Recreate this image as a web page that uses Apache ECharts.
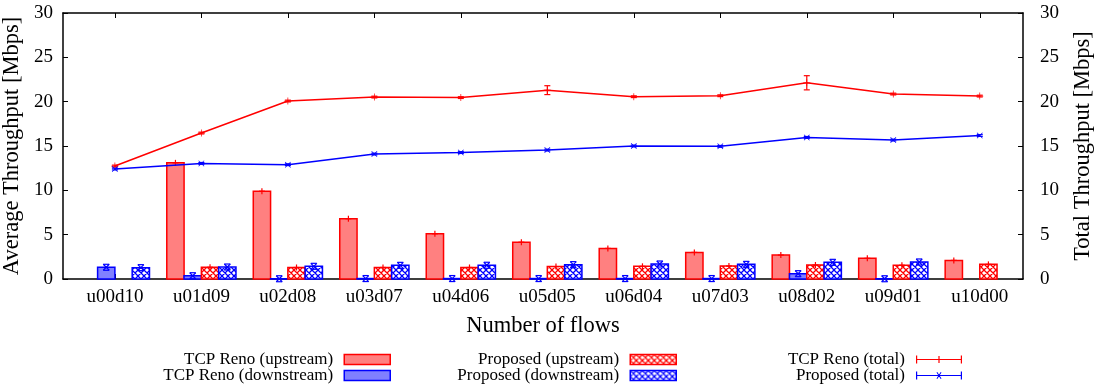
<!DOCTYPE html>
<html>
<head>
<meta charset="utf-8">
<script src="https://cdn.jsdelivr.net/npm/echarts@6/dist/echarts.min.js"></script>
<style>
  html, body { margin: 0; padding: 0; background: #fff; }
  #chart { width: 1105px; height: 392px; }
</style>
</head>
<body>
<div id="chart"></div>
<script>
// Flow mixes (upstream / downstream counts)
const categories = ['u00d10', 'u01d09', 'u02d08', 'u03d07', 'u04d06', 'u05d05',
                    'u06d04', 'u07d03', 'u08d02', 'u09d01', 'u10d00'];

// Average per-flow throughput [Mbps]
const renoUp    = [null, 13.1, 9.9, 6.8, 5.1, 4.15, 3.45, 3.0, 2.7, 2.33, 2.1];
const renoDown  = [1.32, 0.37, 0.03, 0.05, 0.05, 0.05, 0.05, 0.05, 0.6, 0.03, null];
const propUp    = [null, 1.32, 1.3, 1.3, 1.3, 1.4, 1.43, 1.47, 1.58, 1.55, 1.65];
const propDown  = [1.28, 1.35, 1.43, 1.54, 1.55, 1.62, 1.69, 1.65, 1.88, 1.92, null];

// Total throughput [Mbps] with error margins
const renoTotal    = [12.74, 16.46, 20.07, 20.52, 20.46, 21.3, 20.56, 20.67, 22.13, 20.86, 20.63];
const renoTotalErr = [0.1, 0.1, 0.1, 0.1, 0.1, 0.5, 0.1, 0.1, 0.8, 0.1, 0.1];
const propTotal    = [12.4, 13.04, 12.89, 14.09, 14.26, 14.54, 15.0, 14.96, 15.97, 15.67, 16.18];
const propTotalErr = [0.1, 0.1, 0.1, 0.1, 0.1, 0.1, 0.1, 0.1, 0.1, 0.1, 0.1];

const tickIdx = categories.map((_, i) => i);

const RED = '#ff0000', BLUE = '#0000ff';
const FONT = '"Liberation Serif", "DejaVu Serif", serif';
const BAR_W = 0.2;

function hatch(color) {
  const n = 6;
  const c = document.createElement('canvas');
  c.width = n; c.height = n;
  const g = c.getContext('2d');
  g.fillStyle = '#fff';
  g.fillRect(0, 0, n, n);
  g.strokeStyle = color;
  g.lineWidth = 1.3;
  g.beginPath();
  for (let k = -n; k <= n; k += n) {
    g.moveTo(k - 1, -1); g.lineTo(k + n + 1, n + 1);
    g.moveTo(k + n + 1, -1); g.lineTo(k - 1, n + 1);
  }
  g.stroke();
  return { image: c, repeat: 'repeat' };
}

function mark(kind, p, color) {
  const s = 3;
  const lines = kind === '+'
    ? [[p[0], p[1] - s, p[0], p[1] + s], [p[0] - s, p[1], p[0] + s, p[1]]]
    : [[p[0] - s, p[1] - s, p[0] + s, p[1] + s], [p[0] + s, p[1] - s, p[0] - s, p[1] + s],
       [p[0] - s, p[1] - s, p[0] + s, p[1] - s], [p[0] - s, p[1] + s, p[0] + s, p[1] + s]];
  return lines.map(l => ({
    type: 'line', shape: { x1: l[0], y1: l[1], x2: l[2], y2: l[3] },
    style: { stroke: color, lineWidth: 1.2 }
  }));
}

function barSeries(name, values, offset, fill, stroke, kind) {
  const data = [];
  values.forEach((v, i) => { if (v != null) data.push([i, v]); });
  return {
    name, type: 'custom', xAxisIndex: 0, yAxisIndex: 0, data, z: 2,
    renderItem(params, api) {
      const i = api.value(0), v = api.value(1);
      const a = api.coord([i + offset - BAR_W / 2, v]);
      const b = api.coord([i + offset + BAR_W / 2, 0]);
      const t = api.coord([i + offset, v]);
      return {
        type: 'group',
        children: [{
          type: 'rect',
          shape: { x: a[0], y: a[1], width: b[0] - a[0], height: b[1] - a[1] },
          style: { fill, stroke, lineWidth: 1.5 }
        }].concat(mark(kind, t, stroke))
      };
    }
  };
}

function errSeries(values, errs, color) {
  return {
    type: 'custom', xAxisIndex: 0, yAxisIndex: 1, z: 4,
    data: values.map((v, i) => [i, v, errs[i]]),
    renderItem(params, api) {
      const i = api.value(0), v = api.value(1), e = api.value(2);
      const lo = api.coord([i, v - e]), hi = api.coord([i, v + e]);
      const st = { stroke: color, lineWidth: 1.2 };
      return {
        type: 'group',
        children: [
          { type: 'line', shape: { x1: lo[0], y1: lo[1], x2: hi[0], y2: hi[1] }, style: st },
          { type: 'line', shape: { x1: lo[0] - 3, y1: lo[1], x2: lo[0] + 3, y2: lo[1] }, style: st },
          { type: 'line', shape: { x1: hi[0] - 3, y1: hi[1], x2: hi[0] + 3, y2: hi[1] }, style: st }
        ]
      };
    }
  };
}

const PLUS = 'path://M4.5,0H5.5V10H4.5Z M0,4.5H10V5.5H0Z';
const CROSS = 'path://M0,0.8L0.8,0L10,9.2L9.2,10Z M9.2,0L10,0.8L0.8,10L0,9.2Z';
const LEG_PLUS = 'path://M0,4.4H46V5.6H0Z M0,1H1.2V9H0Z M44.8,1H46V9H44.8Z M22.4,1.5H23.6V8.5H22.4Z';
const LEG_CROSS = 'path://M0,4.4H46V5.6H0Z M0,1H1.2V9H0Z M44.8,1H46V9H44.8Z M20.5,2L21.3,1.5L25.5,8L24.7,8.5Z M24.7,1.5L25.5,2L21.3,8.5L20.5,8Z';

const hatchRed = hatch(RED), hatchBlue = hatch(BLUE);

const legendBase = {
  orient: 'vertical', align: 'right', padding: 0, itemGap: -1,
  itemWidth: 46, itemHeight: 10, top: 351, selectedMode: false,
  textStyle: { fontFamily: FONT, fontSize: 17, color: '#000', padding: [0, 6, 0, 0] }
};

const chart = echarts.init(document.getElementById('chart'), null, { renderer: 'canvas' });

chart.setOption({
  animation: false,
  backgroundColor: '#fff',
  textStyle: { fontFamily: FONT },
  grid: { left: 63, right: 82, top: 13, bottom: 113, containLabel: false, outerBoundsMode: 'none' },
  legend: [
    Object.assign({}, legendBase, {
      right: 714,
      data: [
        { name: 'TCP Reno (upstream)', icon: 'rect', itemStyle: { color: '#ff8080', borderColor: RED, borderWidth: 1.5 } },
        { name: 'TCP Reno (downstream)', icon: 'rect', itemStyle: { color: '#8080ff', borderColor: BLUE, borderWidth: 1.5 } }
      ]
    }),
    Object.assign({}, legendBase, {
      right: 428,
      data: [
        { name: 'Proposed (upstream)', icon: 'rect', itemStyle: { color: hatchRed, borderColor: RED, borderWidth: 1.5 } },
        { name: 'Proposed (downstream)', icon: 'rect', itemStyle: { color: hatchBlue, borderColor: BLUE, borderWidth: 1.5 } }
      ]
    }),
    Object.assign({}, legendBase, {
      right: 143,
      data: [
        { name: 'TCP Reno (total)', icon: LEG_PLUS, itemStyle: { color: RED, borderWidth: 0 } },
        { name: 'Proposed (total)', icon: LEG_CROSS, itemStyle: { color: BLUE, borderWidth: 0 } }
      ]
    })
  ],
  xAxis: [{
    type: 'value', position: 'bottom', min: -0.6, max: 10.5,
    name: 'Number of flows', nameLocation: 'middle', nameGap: 36,
    nameTextStyle: { fontFamily: FONT, fontSize: 22.5, color: '#000' },
    axisLine: { onZero: false, lineStyle: { color: '#000', width: 1.5 } },
    axisTick: { inside: true, length: 5, customValues: tickIdx, lineStyle: { color: '#000' } },
    axisLabel: {
      customValues: tickIdx, margin: 9, fontFamily: FONT, fontSize: 19, color: '#000',
      formatter: v => categories[Math.round(v)]
    },
    splitLine: { show: false }
  }, {
    type: 'value', position: 'top', min: -0.6, max: 10.5,
    axisLine: { onZero: false, lineStyle: { color: '#000', width: 1.5 } },
    axisTick: { inside: true, length: 5, customValues: tickIdx, lineStyle: { color: '#000' } },
    axisLabel: { show: false },
    splitLine: { show: false }
  }],
  yAxis: [{
    type: 'value', position: 'left', min: 0, max: 30, interval: 5,
    name: 'Average Throughput [Mbps]', nameLocation: 'middle', nameGap: 31, nameRotate: 90,
    nameTextStyle: { fontFamily: FONT, fontSize: 22.5, color: '#000' },
    axisLine: { show: true, onZero: false, lineStyle: { color: '#000', width: 1.5 } },
    axisTick: { show: true, inside: true, length: 5, lineStyle: { color: '#000' } },
    axisLabel: { margin: 10, fontFamily: FONT, fontSize: 19, color: '#000' },
    splitLine: { show: false }
  }, {
    type: 'value', position: 'right', min: 0, max: 30, interval: 5,
    name: 'Total Throughput [Mbps]', nameLocation: 'middle', nameGap: 49, nameRotate: 90,
    nameTextStyle: { fontFamily: FONT, fontSize: 22.5, color: '#000' },
    axisLine: { show: true, onZero: false, lineStyle: { color: '#000', width: 1.5 } },
    axisTick: { show: true, inside: true, length: 5, lineStyle: { color: '#000' } },
    axisLabel: { margin: 17, fontFamily: FONT, fontSize: 19, color: '#000' },
    splitLine: { show: false }
  }],
  series: [
    barSeries('TCP Reno (upstream)', renoUp, -0.3, '#ff8080', RED, '+'),
    barSeries('TCP Reno (downstream)', renoDown, -0.1, '#8080ff', BLUE, 'x'),
    barSeries('Proposed (upstream)', propUp, 0.1, hatchRed, RED, '+'),
    barSeries('Proposed (downstream)', propDown, 0.3, hatchBlue, BLUE, 'x'),
    {
      name: 'TCP Reno (total)', type: 'line', xAxisIndex: 0, yAxisIndex: 1, z: 5,
      data: renoTotal.map((v, i) => [i, v]),
      symbol: PLUS, symbolSize: 7,
      lineStyle: { color: RED, width: 1.5 }, itemStyle: { color: RED }
    },
    {
      name: 'Proposed (total)', type: 'line', xAxisIndex: 0, yAxisIndex: 1, z: 5,
      data: propTotal.map((v, i) => [i, v]),
      symbol: CROSS, symbolSize: 6,
      lineStyle: { color: BLUE, width: 1.5 }, itemStyle: { color: BLUE }
    },
    errSeries(renoTotal, renoTotalErr, RED),
    errSeries(propTotal, propTotalErr, BLUE)
  ]
});
</script>
</body>
</html>
